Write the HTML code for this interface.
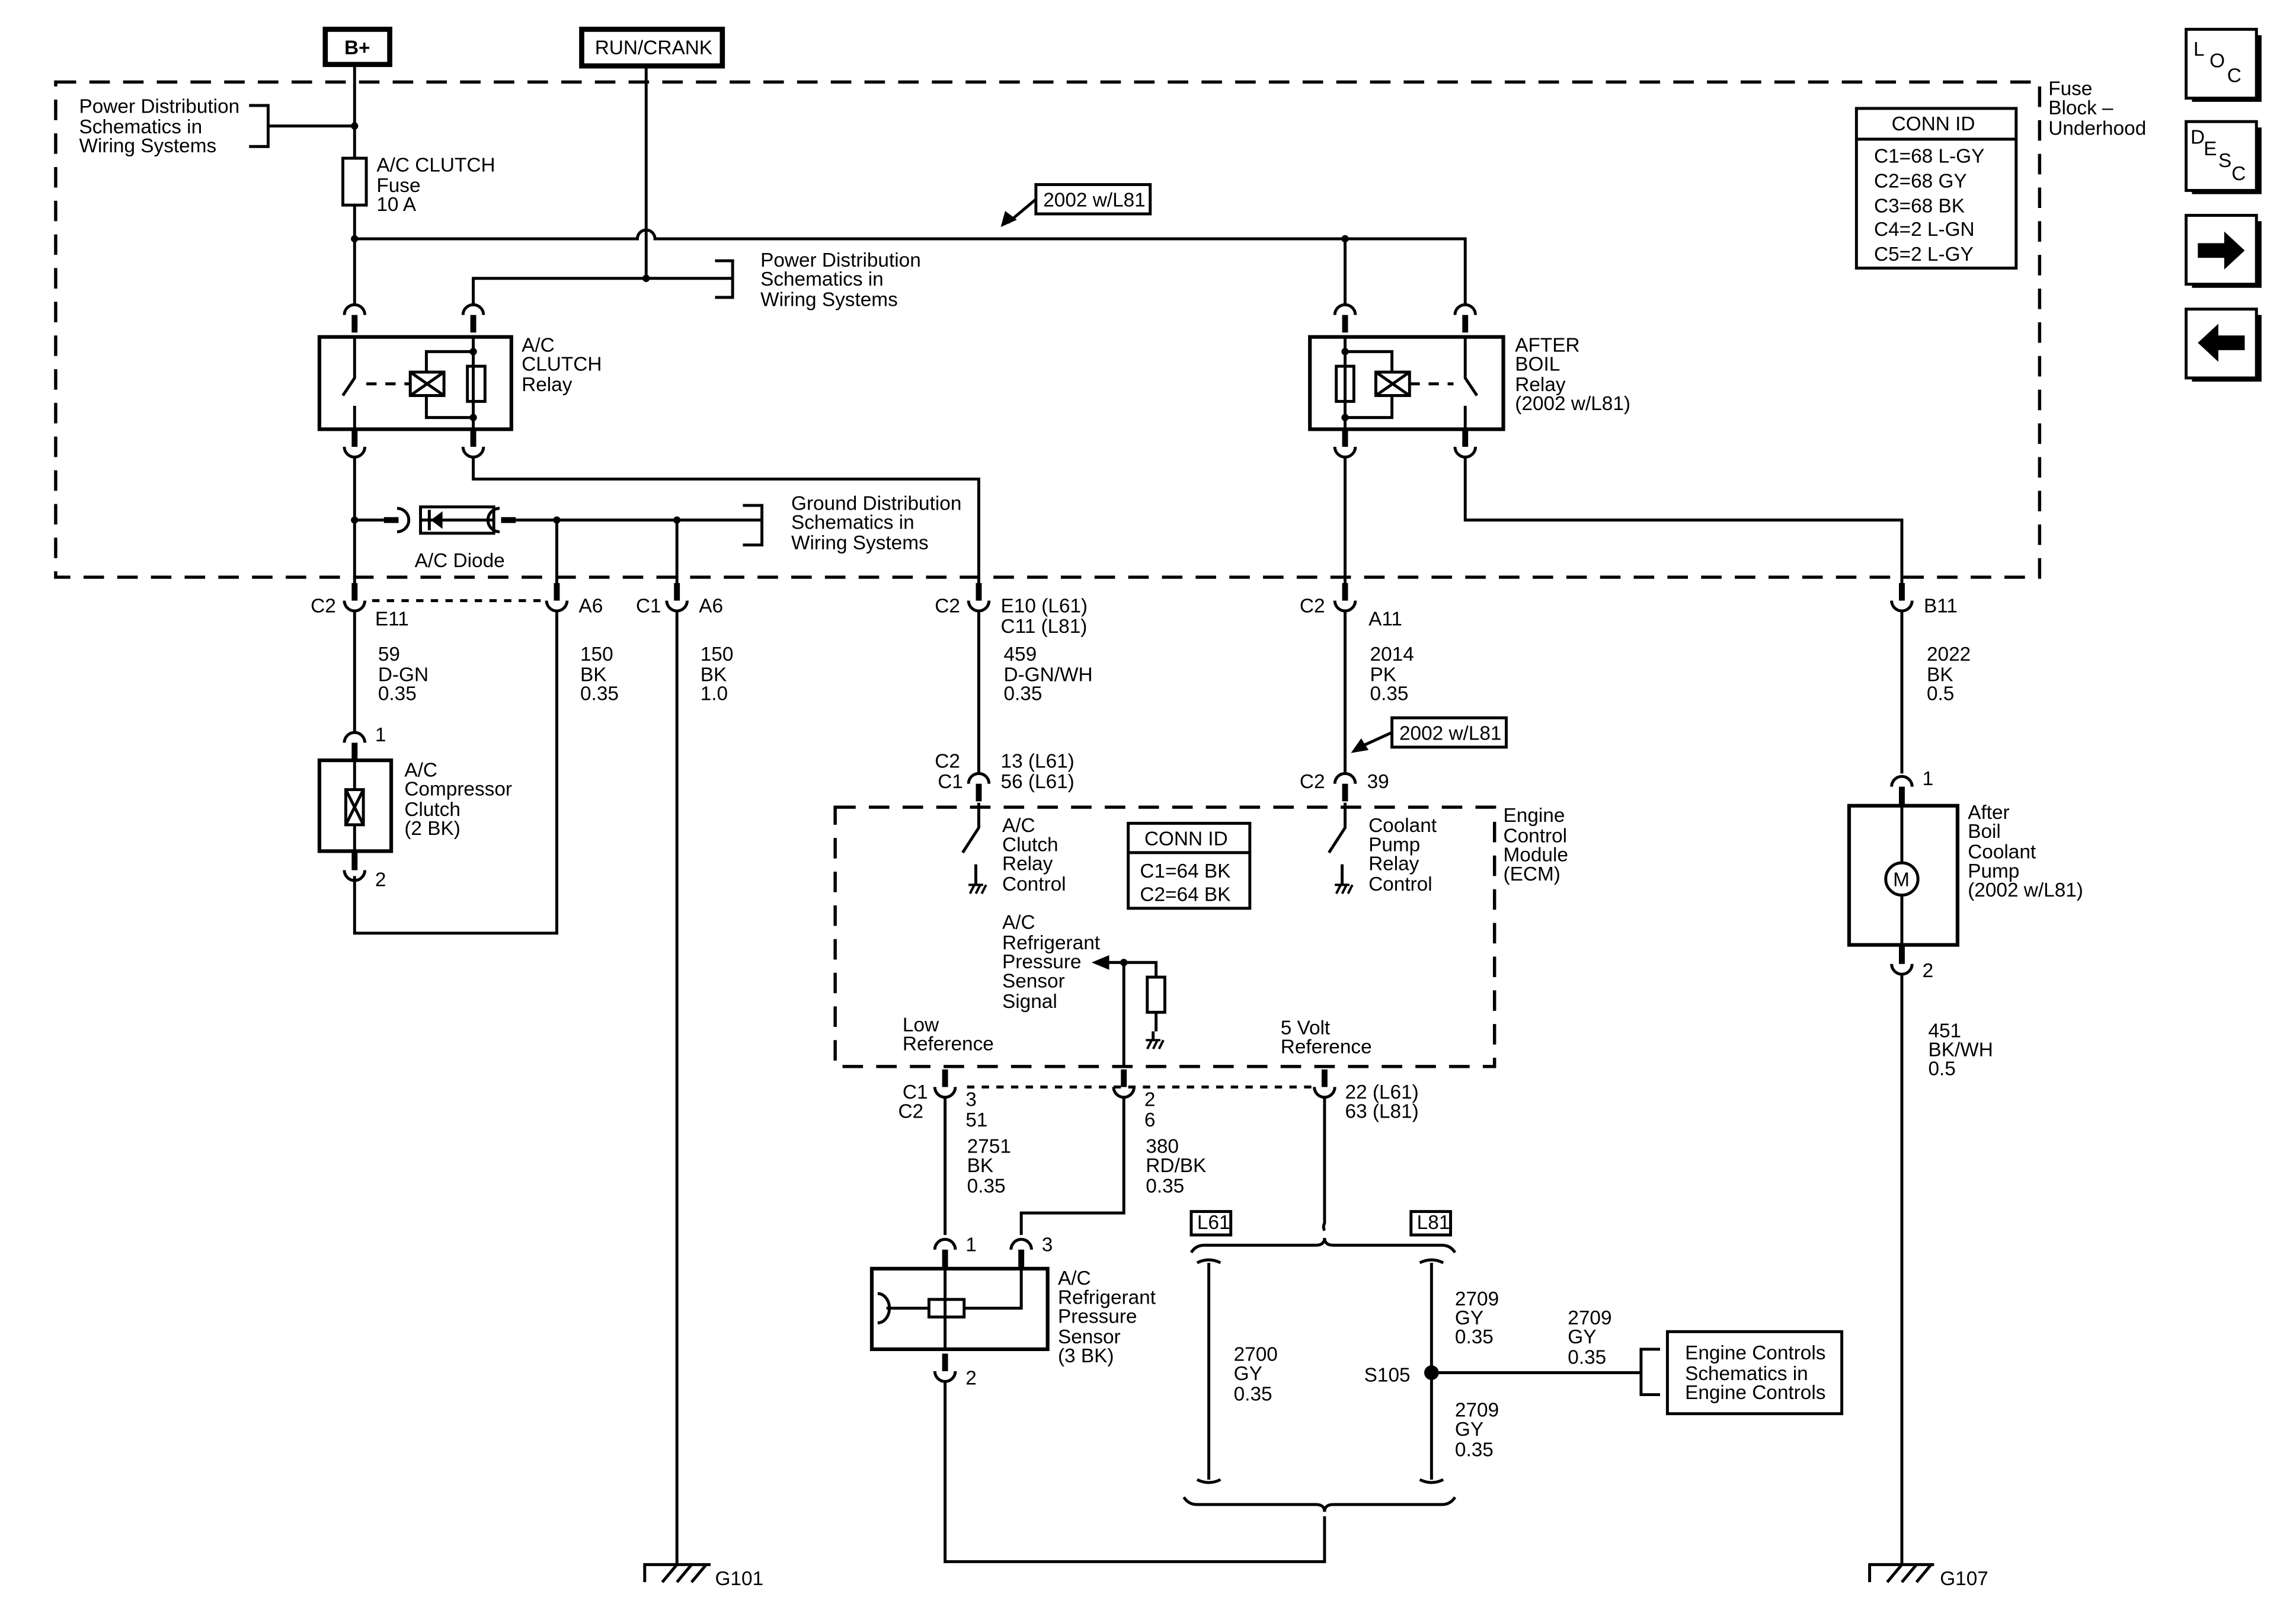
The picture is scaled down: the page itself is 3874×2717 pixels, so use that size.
<!DOCTYPE html>
<html><head><meta charset="utf-8"><style>
html,body{margin:0;padding:0;background:#fff;}
svg{display:block;}
text{font-family:"Liberation Sans",sans-serif;font-size:13.5px;fill:#000;}
</style></head><body>
<svg width="3874" height="2717" viewBox="0 0 1567 1099" xmlns="http://www.w3.org/2000/svg">
<defs>
<g id="U"><rect x="-2" y="-12" width="4" height="12"/><path d="M-7 0 A7 7 0 0 0 7 0" fill="none" stroke="#000" stroke-width="2"/></g>
<g id="N"><rect x="-2" y="0" width="4" height="12"/><path d="M-7 0 A7 7 0 0 1 7 0" fill="none" stroke="#000" stroke-width="2"/></g>
<g id="GND"><path d="M-5 0 L5 0 M-4 6 L-1 0 M0 6 L3 0 M4 6 L7 0" stroke="#000" stroke-width="1.6" fill="none"/></g>
</defs>
<rect width="1567" height="1099" fill="#fff"/>
<g fill="none" stroke="#000" stroke-width="2">
<rect x="38" y="56" width="1354" height="338" stroke-dasharray="14,9" stroke-width="2.2"/>
<rect x="570" y="551" width="450" height="177" stroke-dasharray="14,9" stroke-width="2.2"/>
<rect x="222" y="20" width="44" height="24" stroke-width="3.5"/>
<rect x="397" y="20" width="96" height="25" stroke-width="3.5"/>
<path d="M242 44 V108 M242 140 V208"/>
<rect x="234" y="108" width="16" height="32"/>
<path d="M242 86 H183 M170 72 H183 V100 H170"/>
<path d="M242 163 H435 A6 6 0 0 1 447 163 H1000 V208 M918 163 V208"/>
<path d="M441 45 V190 M323 208 V190 H500 M488 178 H500 V203 H488"/>
<path d="M707 136 L688 152"/>
<rect x="707" y="126" width="78" height="20"/>
<rect x="218" y="230" width="131" height="63" stroke-width="2.5"/>
<path d="M242 230 V258 L234 270 M242 277 V293 M323 230 V293"/>
<path d="M250 262 H280" stroke-dasharray="7,6"/>
<rect x="280" y="254" width="23" height="16"/>
<path d="M280 254 L303 270 M280 270 L303 254"/>
<path d="M291 254 V240 H323 M291 270 V285 H323"/>
<rect x="319" y="250" width="12" height="24"/>
<rect x="894" y="230" width="132" height="63" stroke-width="2.5"/>
<path d="M1000 230 V258 L1008 270 M1000 277 V293 M918 230 V293"/>
<path d="M962 262 H992" stroke-dasharray="7,6"/>
<rect x="939" y="254" width="23" height="16"/>
<path d="M939 254 L962 270 M939 270 L962 254"/>
<path d="M950 254 V240 H918 M950 270 V285 H918"/>
<rect x="912" y="250" width="12" height="24"/>
<path d="M242 312 V403 M323 312 V327 H668 V403 M918 312 V403 M1000 312 V355 H1298 V403"/>
<path d="M242 355 H262 M352 355 H520 M380 355 V403 M462 355 V403 M507 345 H520 V372 H507"/>
<rect x="287" y="346" width="50" height="18"/>
<path d="M287 355 H337"/>
<path d="M271 347 A8 8 0 0 1 271 363 M341 347 A8 8 0 0 0 341 363"/>
<path d="M242 416 V500 M380 416 V637 H242 V598 M462 416 V1068"/>
<path d="M254 410 H372 M660 742 H897" stroke-dasharray="5,5"/>
<rect x="218" y="519" width="49" height="62" stroke-width="2.5"/>
<path d="M242 519 V581"/>
<rect x="236" y="539" width="12" height="24" fill="#fff"/>
<path d="M236 539 L248 563 M236 563 L248 539"/>
<path d="M668 417 V528 M918 417 V528"/>
<rect x="950" y="490" width="78" height="20"/>
<path d="M950 500 L928 510"/>
<path d="M668 548 V565 L657 582 M918 548 V565 L907 582 M666 590 V604 M916 590 V604"/>
<rect x="770" y="562" width="83" height="58"/>
<path d="M770 582 H853"/>
<path d="M767 657 V728 M767 657 H789 V667 M789 691 V704 M787 710 V704"/>
<rect x="783" y="667" width="12" height="24"/>
<path d="M755 657 H767"/>
<path d="M645 749 V843 M767 749 V828 H697 V843 M904 749 V835 A5 5 0 0 0 904 840"/>
<rect x="595" y="866" width="120" height="55" stroke-width="2.5"/>
<path d="M645 866 V921 M599 883 A8 10 0 0 1 599 903 M605 893 H634 M658 893 H697 V866"/>
<rect x="634" y="887" width="24" height="12"/>
<path d="M645 943 V1066 H904 V1035"/>
<path d="M813 855 Q816 850 822 850 H898 Q904 850 904 845 Q904 850 910 850 H984 Q990 850 993 855"/>
<path d="M808 1022 Q811 1027 817 1027 H898 Q904 1027 904 1032 Q904 1027 910 1027 H984 Q990 1027 993 1022"/>
<path d="M825 862 V1010 M977 862 V1010 M817 862 Q825 858 833 862 M969 862 Q977 858 985 862 M817 1010 Q825 1014 833 1010 M969 1010 Q977 1014 985 1010"/>
<rect x="813" y="827" width="27" height="16"/>
<rect x="963" y="827" width="27" height="16"/>
<path d="M977 937 H1120 M1133 921 H1120 V952 H1133"/>
<rect x="1138" y="909" width="119" height="56"/>
<path d="M1298 417 V528 M1298 665 V1068"/>
<rect x="1262" y="550" width="74" height="95" stroke-width="2.5"/>
<path d="M1298 550 V589 M1298 611 V645"/>
<circle cx="1298" cy="600" r="11"/>
<path d="M440 1080 V1068 H485 M1276 1080 V1068 H1320"/>
<path d="M452 1080 L462 1068 M462 1080 L472 1068 M472 1080 L482 1068 M1288 1080 L1298 1068 M1298 1080 L1308 1068 M1308 1080 L1318 1068"/>
<rect x="1267" y="74" width="109" height="109"/>
<path d="M1267 95 H1376"/>
<rect x="1492" y="20" width="48" height="47"/>
<rect x="1492" y="83" width="48" height="47"/>
<rect x="1492" y="147" width="48" height="47"/>
<rect x="1492" y="211" width="48" height="47"/>
<path d="M1496 68 H1542 V24 M1496 131 H1542 V87 M1496 195 H1542 V151 M1496 259 H1542 V215" stroke-width="3"/>
</g>
<g fill="#000">
<path d="M683 155 L686 144 L694 150 Z"/>
<path d="M922 514 L929 504 L934 512 Z"/>
<path d="M745 657 L757 652 L757 662 Z"/>
<path d="M302 349 V361 L294 355 Z"/>
<rect x="292" y="348" width="2" height="14"/>
<rect x="262" y="353" width="10" height="4"/>
<rect x="342" y="353" width="10" height="4"/>
<circle cx="242" cy="86" r="2.5"/><circle cx="242" cy="163" r="2.5"/><circle cx="441" cy="190" r="2.5"/>
<circle cx="918" cy="163" r="2.5"/><circle cx="242" cy="355" r="2.5"/><circle cx="380" cy="355" r="2.5"/>
<circle cx="462" cy="355" r="2.5"/><circle cx="323" cy="240" r="2.5"/><circle cx="323" cy="285" r="2.5"/>
<circle cx="918" cy="240" r="2.5"/><circle cx="918" cy="285" r="2.5"/><circle cx="767" cy="657" r="2.5"/>
<circle cx="977" cy="937" r="5"/>
<path d="M1500 166 H1518 V158 L1532 171 L1518 184 V176 H1500 Z"/>
<path d="M1532 229 H1514 V221 L1500 234 L1514 247 V239 H1532 Z"/>
</g>
<use href="#N" x="242" y="215"/><use href="#N" x="323" y="215"/><use href="#N" x="918" y="215"/><use href="#N" x="1000" y="215"/>
<use href="#U" x="242" y="305"/><use href="#U" x="323" y="305"/><use href="#U" x="918" y="305"/><use href="#U" x="1000" y="305"/>
<use href="#U" x="242" y="410"/><use href="#U" x="380" y="410"/><use href="#U" x="462" y="410"/><use href="#U" x="668" y="410"/><use href="#U" x="918" y="410"/><use href="#U" x="1298" y="410"/>
<use href="#N" x="242" y="507"/><use href="#U" x="242" y="594"/>
<use href="#N" x="668" y="535"/><use href="#N" x="918" y="535"/>
<use href="#U" x="645" y="742"/><use href="#U" x="767" y="742"/><use href="#U" x="904" y="742"/>
<use href="#N" x="645" y="853"/><use href="#N" x="697" y="853"/><use href="#U" x="645" y="936"/>
<use href="#N" x="1298" y="537"/><use href="#U" x="1298" y="658"/>
<use href="#GND" x="666" y="604"/><use href="#GND" x="916" y="604"/><use href="#GND" x="787" y="710"/>
<text x="235" y="37" font-weight="bold">B+</text>
<text x="406" y="37">RUN/CRANK</text>
<text x="54" y="77">Power Distribution</text><text x="54" y="91">Schematics in</text><text x="54" y="104">Wiring Systems</text>
<text x="257" y="117">A/C CLUTCH</text><text x="257" y="131">Fuse</text><text x="257" y="144">10 A</text>
<text x="712" y="141">2002 w/L81</text>
<text x="519" y="182">Power Distribution</text><text x="519" y="195">Schematics in</text><text x="519" y="209">Wiring Systems</text>
<text x="356" y="240">A/C</text><text x="356" y="253">CLUTCH</text><text x="356" y="267">Relay</text>
<text x="1034" y="240">AFTER</text><text x="1034" y="253">BOIL</text><text x="1034" y="267">Relay</text><text x="1034" y="280">(2002 w/L81)</text>
<text x="540" y="348">Ground Distribution</text><text x="540" y="361">Schematics in</text><text x="540" y="375">Wiring Systems</text>
<text x="283" y="387">A/C Diode</text>
<text x="1398" y="65">Fuse</text><text x="1398" y="78">Block –</text><text x="1398" y="92">Underhood</text>
<text x="1291" y="89">CONN ID</text>
<text x="1279" y="111">C1=68 L-GY</text><text x="1279" y="128">C2=68 GY</text><text x="1279" y="145">C3=68 BK</text><text x="1279" y="161">C4=2 L-GN</text><text x="1279" y="178">C5=2 L-GY</text>
<text x="1497" y="38">L</text><text x="1508" y="46">O</text><text x="1520" y="56">C</text>
<text x="1495" y="98">D</text><text x="1504" y="106">E</text><text x="1514" y="114">S</text><text x="1523" y="123">C</text>
<text x="212" y="418">C2</text><text x="256" y="427">E11</text><text x="395" y="418">A6</text><text x="434" y="418">C1</text><text x="477" y="418">A6</text>
<text x="638" y="418">C2</text><text x="683" y="418">E10 (L61)</text><text x="683" y="432">C11 (L81)</text>
<text x="887" y="418">C2</text><text x="934" y="427">A11</text><text x="1313" y="418">B11</text>
<text x="258" y="451">59</text><text x="258" y="465">D-GN</text><text x="258" y="478">0.35</text>
<text x="396" y="451">150</text><text x="396" y="465">BK</text><text x="396" y="478">0.35</text>
<text x="478" y="451">150</text><text x="478" y="465">BK</text><text x="478" y="478">1.0</text>
<text x="685" y="451">459</text><text x="685" y="465">D-GN/WH</text><text x="685" y="478">0.35</text>
<text x="935" y="451">2014</text><text x="935" y="465">PK</text><text x="935" y="478">0.35</text>
<text x="1315" y="451">2022</text><text x="1315" y="465">BK</text><text x="1315" y="478">0.5</text>
<text x="256" y="506">1</text><text x="256" y="605">2</text>
<text x="276" y="530">A/C</text><text x="276" y="543">Compressor</text><text x="276" y="557">Clutch</text><text x="276" y="570">(2 BK)</text>
<text x="638" y="524">C2</text><text x="640" y="538">C1</text><text x="683" y="524">13 (L61)</text><text x="683" y="538">56 (L61)</text>
<text x="955" y="505">2002 w/L81</text>
<text x="887" y="538">C2</text><text x="933" y="538">39</text>
<text x="684" y="568">A/C</text><text x="684" y="581">Clutch</text><text x="684" y="594">Relay</text><text x="684" y="608">Control</text>
<text x="934" y="568">Coolant</text><text x="934" y="581">Pump</text><text x="934" y="594">Relay</text><text x="934" y="608">Control</text>
<text x="781" y="577">CONN ID</text><text x="778" y="599">C1=64 BK</text><text x="778" y="615">C2=64 BK</text>
<text x="1026" y="561">Engine</text><text x="1026" y="575">Control</text><text x="1026" y="588">Module</text><text x="1026" y="601">(ECM)</text>
<text x="684" y="634">A/C</text><text x="684" y="648">Refrigerant</text><text x="684" y="661">Pressure</text><text x="684" y="674">Sensor</text><text x="684" y="688">Signal</text>
<text x="616" y="704">Low</text><text x="616" y="717">Reference</text>
<text x="874" y="706">5 Volt</text><text x="874" y="719">Reference</text>
<text x="616" y="750">C1</text><text x="613" y="763">C2</text><text x="659" y="755">3</text><text x="659" y="769">51</text>
<text x="781" y="755">2</text><text x="781" y="769">6</text>
<text x="918" y="750">22 (L61)</text><text x="918" y="763">63 (L81)</text>
<text x="660" y="787">2751</text><text x="660" y="800">BK</text><text x="660" y="814">0.35</text>
<text x="782" y="787">380</text><text x="782" y="800">RD/BK</text><text x="782" y="814">0.35</text>
<text x="817" y="839">L61</text><text x="967" y="839">L81</text>
<text x="659" y="854">1</text><text x="711" y="854">3</text><text x="659" y="945">2</text>
<text x="722" y="877">A/C</text><text x="722" y="890">Refrigerant</text><text x="722" y="903">Pressure</text><text x="722" y="917">Sensor</text><text x="722" y="930">(3 BK)</text>
<text x="993" y="891">2709</text><text x="993" y="904">GY</text><text x="993" y="917">0.35</text>
<text x="1070" y="904">2709</text><text x="1070" y="917">GY</text><text x="1070" y="931">0.35</text>
<text x="842" y="929">2700</text><text x="842" y="942">GY</text><text x="842" y="956">0.35</text>
<text x="931" y="943">S105</text>
<text x="993" y="967">2709</text><text x="993" y="980">GY</text><text x="993" y="994">0.35</text>
<text x="1150" y="928">Engine Controls</text><text x="1150" y="942">Schematics in</text><text x="1150" y="955">Engine Controls</text>
<text x="1312" y="536">1</text><text x="1312" y="667">2</text>
<text x="1343" y="559">After</text><text x="1343" y="572">Boil</text><text x="1343" y="586">Coolant</text><text x="1343" y="599">Pump</text><text x="1343" y="612">(2002 w/L81)</text>
<text x="1292" y="605">M</text>
<text x="1316" y="708">451</text><text x="1316" y="721">BK/WH</text><text x="1316" y="734">0.5</text>
<text x="488" y="1082">G101</text><text x="1324" y="1082">G107</text>
</svg>
</body></html>
